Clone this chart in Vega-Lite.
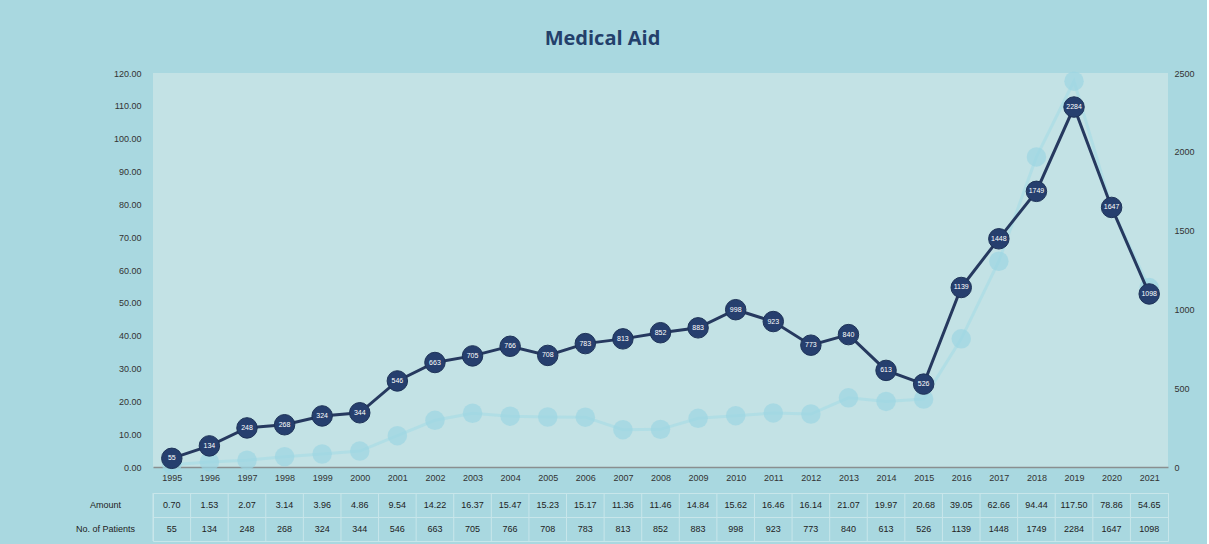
{
  "$schema": "https://vega.github.io/schema/vega-lite/v6.json",
  "background": "#a9d8e0",
  "padding": {"left": 74, "right": 12, "top": 29, "bottom": 9},
  "title": {"text": "Medical Aid", "fontSize": 20, "font": "Open Sans", "fontWeight": "bold", "color": "#23406b", "anchor": "middle", "offset": 20, "dx": -32},
  "config": {"font": "Liberation Sans", "view": {"stroke": null}},
  "data": {"values": [
    {"year": "1995", "amount": 0.70, "patients": 55},
    {"year": "1996", "amount": 1.53, "patients": 134},
    {"year": "1997", "amount": 2.07, "patients": 248},
    {"year": "1998", "amount": 3.14, "patients": 268},
    {"year": "1999", "amount": 3.96, "patients": 324},
    {"year": "2000", "amount": 4.86, "patients": 344},
    {"year": "2001", "amount": 9.54, "patients": 546},
    {"year": "2002", "amount": 14.22, "patients": 663},
    {"year": "2003", "amount": 16.37, "patients": 705},
    {"year": "2004", "amount": 15.47, "patients": 766},
    {"year": "2005", "amount": 15.23, "patients": 708},
    {"year": "2006", "amount": 15.17, "patients": 783},
    {"year": "2007", "amount": 11.36, "patients": 813},
    {"year": "2008", "amount": 11.46, "patients": 852},
    {"year": "2009", "amount": 14.84, "patients": 883},
    {"year": "2010", "amount": 15.62, "patients": 998},
    {"year": "2011", "amount": 16.46, "patients": 923},
    {"year": "2012", "amount": 16.14, "patients": 773},
    {"year": "2013", "amount": 21.07, "patients": 840},
    {"year": "2014", "amount": 19.97, "patients": 613},
    {"year": "2015", "amount": 20.68, "patients": 526},
    {"year": "2016", "amount": 39.05, "patients": 1139},
    {"year": "2017", "amount": 62.66, "patients": 1448},
    {"year": "2018", "amount": 94.44, "patients": 1749},
    {"year": "2019", "amount": 117.5, "patients": 2284},
    {"year": "2020", "amount": 78.86, "patients": 1647},
    {"year": "2021", "amount": 54.65, "patients": 1098}
  ]},
  "spacing": 10,
  "vconcat": [
    {
      "width": 1015,
      "height": 394,
      "view": {"fill": "#c3e2e5", "stroke": null},
      "encoding": {
        "x": {"field": "year", "type": "ordinal", "scale": {"type": "point", "padding": 0.5},
          "axis": {"title": null, "labelAngle": 0, "labelFontSize": 9, "labelColor": "#333", "ticks": false, "domainColor": "#8a8f90", "domainWidth": 1.5, "labelPadding": 6}}
      },
      "layer": [
        {
          "layer": [
            {"mark": {"type": "line", "color": "#a3dae5", "strokeWidth": 3, "opacity": 0.55}},
            {"mark": {"type": "point", "filled": true, "shape": "circle", "size": 380, "color": "#9dd6e2", "opacity": 0.7}}
          ],
          "encoding": {
            "y": {"field": "amount", "type": "quantitative", "scale": {"domain": [0, 120], "nice": false},
              "axis": {"title": null, "values": [0,10,20,30,40,50,60,70,80,90,100,110,120], "format": ".2f", "labelFontSize": 9, "labelColor": "#333", "domain": false, "ticks": false, "grid": false, "labelPadding": 12}}
          }
        },
        {
          "layer": [
            {"mark": {"type": "line", "color": "#26395f", "strokeWidth": 3}},
            {"mark": {"type": "point", "filled": true, "shape": "circle", "size": 420, "color": "#263f6e", "opacity": 1, "stroke": "#1e3358", "strokeWidth": 1}},
            {"mark": {"type": "text", "color": "white", "fontSize": 7, "font": "Liberation Sans"}, "encoding": {"text": {"field": "patients", "type": "quantitative"}}}
          ],
          "encoding": {
            "y": {"field": "patients", "type": "quantitative", "scale": {"domain": [0, 2500], "nice": false},
              "axis": {"title": null, "orient": "right", "values": [0,500,1000,1500,2000,2500], "format": "d", "labelFontSize": 9, "labelColor": "#333", "domain": false, "ticks": false, "grid": false, "labelPadding": 6}}
          }
        }
      ],
      "resolve": {"scale": {"y": "independent"}}
    },
    {
      "width": 1015,
      "height": 48,
      "view": {"fill": null, "stroke": "#c8e6ea", "strokeWidth": 1},
      "encoding": {
        "x": {"field": "year", "type": "ordinal", "scale": {"type": "band", "paddingInner": 0, "paddingOuter": 0},
          "axis": null}
      },
      "layer": [
        {
          "mark": {"type": "text", "fontSize": 9, "color": "#222"},
          "encoding": {
            "y": {"datum": "Amount", "type": "ordinal", "scale": {"domain": ["Amount", "No. of Patients"], "type": "band", "paddingInner": 0, "paddingOuter": 0},
              "axis": {"title": null, "labelFontSize": 9, "labelColor": "#222", "labelAlign": "center", "ticks": false, "domain": false, "grid": true, "gridColor": "#c8e6ea", "bandPosition": 0, "labelPadding": 48}},
            "text": {"field": "amount", "type": "quantitative", "format": ".2f"}
          }
        },
        {
          "mark": {"type": "text", "fontSize": 9, "color": "#222"},
          "encoding": {
            "y": {"datum": "No. of Patients", "type": "ordinal"},
            "text": {"field": "patients", "type": "quantitative"}
          }
        },
        {
          "mark": {"type": "rule", "color": "#c8e6ea", "strokeWidth": 1},
          "encoding": {"x": {"field": "year", "type": "ordinal", "bandPosition": 0}}
        }
      ]
    }
  ]
}
